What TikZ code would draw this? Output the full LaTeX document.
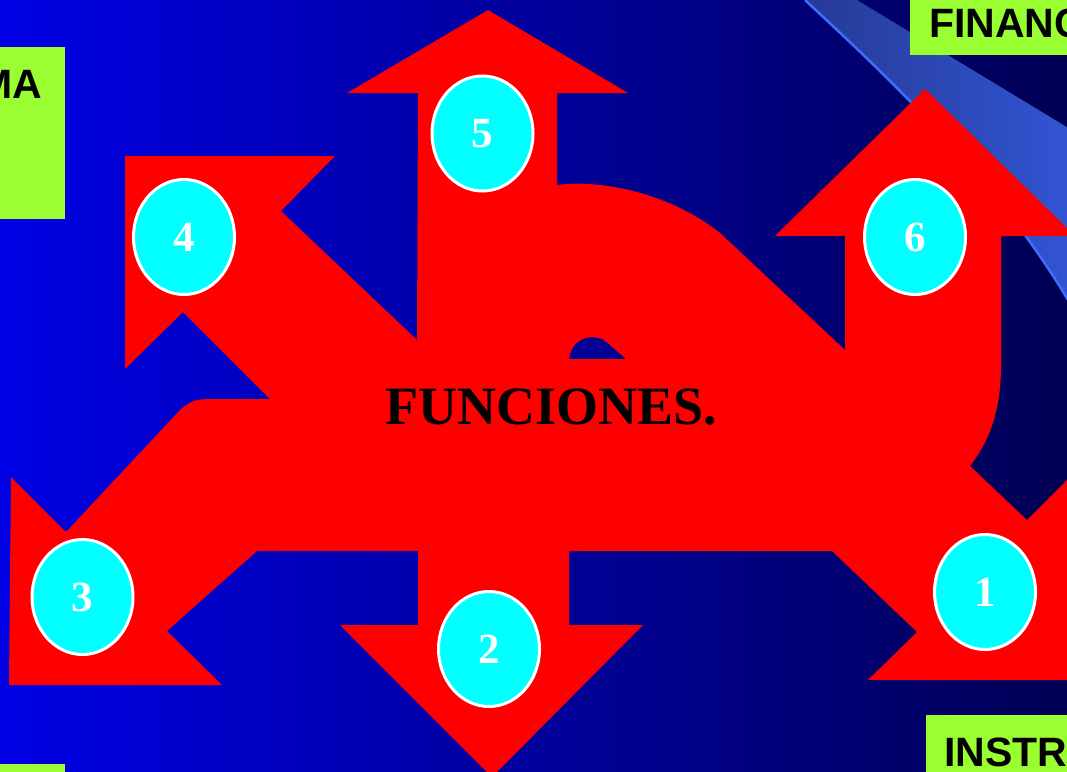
\documentclass[tikz,border=0pt]{standalone}
\usepackage{fontspec}
\setmainfont{Liberation Serif}
\setsansfont{Liberation Sans}
\usetikzlibrary{shapes.geometric}
\definecolor{bgleft}{RGB}{0,0,228}
\definecolor{bgmid}{RGB}{0,0,160}
\definecolor{bgright}{RGB}{0,0,84}
\definecolor{bandl}{RGB}{38,58,150}
\definecolor{bandr}{RGB}{50,85,212}
\definecolor{bandline}{RGB}{60,110,255}
\definecolor{redc}{RGB}{255,0,0}
\definecolor{greenc}{RGB}{153,255,51}
\definecolor{cyanc}{RGB}{0,255,255}
\tikzset{
  numell/.style={ellipse, draw=white, fill=cyanc, line width=3pt, minimum width=101pt, minimum height=115pt, inner sep=0pt, text=white, font=\fontsize{43}{46}\selectfont\bfseries},
  greenbox/.style={fill=greenc},
  boxlabel/.style={inner sep=0pt, text=black, font=\sffamily\bfseries\fontsize{41}{44}\selectfont},
  titletext/.style={inner sep=0pt, text=black, font=\fontsize{54}{60}\selectfont\bfseries}
}
\begin{document}
\begin{tikzpicture}[x=1pt,y=-1pt]
\path[use as bounding box] (0,0) rectangle (1067,771);
\clip (0,0) rectangle (1067,771);
% background
\fill[left color=bgleft, middle color=bgmid, right color=bgright] (0,0) rectangle (1067,771);
% light band
\fill[left color=bandl, right color=bandr] (805,0) .. controls (880,70) and (1000,180) .. (1075,312) -- (1075,132) -- (857,0) -- cycle;
\draw[bandline, line width=2.5pt] (805,0) .. controls (880,70) and (1000,180) .. (1075,312);
% green boxes
\fill[greenbox] (0,47) rectangle (65,219);
\fill[greenbox] (910,0) rectangle (1075,55);
\fill[greenbox] (926,715) rectangle (1075,780);
\fill[greenbox] (0,764) rectangle (65,780);
\node[boxlabel, anchor=base east] (lma) at (42,98) {MA};
\node[boxlabel, anchor=base west] (lfin) at (929,37) {FINANC};
\node[boxlabel, anchor=base west] (lins) at (944,766) {INSTR};
% red shape
\fill[redc, even odd rule]
 (488,10) -- (628,93) -- (557,93) -- (557,185)
 .. controls (600,179) and (670,193) .. (720,233)
 -- (845,350) -- (845,236) -- (775,236) -- (925,89) -- (1075,236) -- (1001,236) -- (1001,365)
 .. controls (1001,410) and (990,440) .. (970,466)
 -- (1027,520) -- (1081,466) -- (1081,680) -- (868,680) -- (917,632) -- (832,551) -- (569,551)
 -- (569,625) -- (643,625) -- (492,777) -- (340,625) -- (418,625) -- (418,551) -- (257,551)
 -- (167,631) -- (222,685) -- (9,685) -- (11,477) -- (66,532) -- (180,410)
 .. controls (190,401) and (196,399) .. (210,399)
 -- (270,399) -- (183,312) -- (125,369) -- (125,156) -- (335,156) -- (281,211) -- (417,340)
 -- (418,93) -- (347,93) -- cycle
 (569,359) .. controls (571,343) and (582,337) .. (594,337) -- (603,339) -- (626,359) -- cycle;
% title
\node[titletext] (title) at (551.5,407) {FUNCIONES.};
% numbered ellipses
\node[numell] (n1) at (985,592) {1};
\node[numell] (n2) at (489,649) {2};
\node[numell] (n3) at (82.5,597) {3};
\node[numell] (n4) at (184,237) {4};
\node[numell] (n5) at (482.5,133.5) {5};
\node[numell] (n6) at (915,237) {6};
\end{tikzpicture}
\end{document}
